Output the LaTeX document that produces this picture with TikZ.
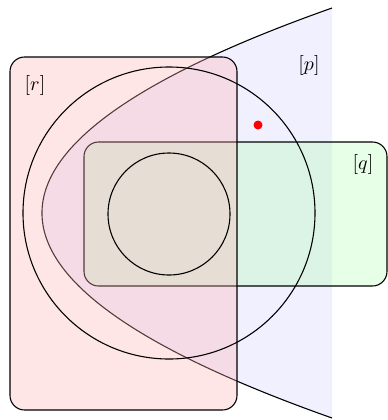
\documentclass[tikz,border=0pt]{standalone}
\definecolor{vnBlue}{HTML}{F0F0FF}
\definecolor{vnRed}{HTML}{FFB3B3}
\definecolor{vnGreen}{HTML}{B3FFB3}
\tikzset{
  vn line/.style={draw=black, line width=0.6pt},
  vn box/.style={vn line, rounded corners=8pt, fill opacity=0.33},
  vn label/.style={font=\fontsize{10.5}{12}\selectfont, text=black},
}
\begin{document}
\begin{tikzpicture}[x=0.55pt,y=-0.55pt]
\useasboundingbox(0,0)rectangle(388,420);
\fill[vnBlue](332,8)..controls(-54.7,144.7)and(-54.7,281.3)..(332,418)--cycle;
\draw[vn line](332,8)..controls(-54.7,144.7)and(-54.7,281.3)..(332,418);
\draw[vn box,fill=vnGreen](84,142)rectangle(387,286);
\draw[vn box,fill=vnRed](10,57)rectangle(237,410);
\draw[vn line](169,213)circle[radius=146];\draw[vn line](169,214)circle[radius=61];
\fill[red](258,125)circle[radius=4.5];
\node[vn label](p)at(309,66){$[p]$};\node[vn label](q)at(363,165){$[q]$};\node[vn label](r)at(35,86){$[r]$};
\end{tikzpicture}
\end{document}
